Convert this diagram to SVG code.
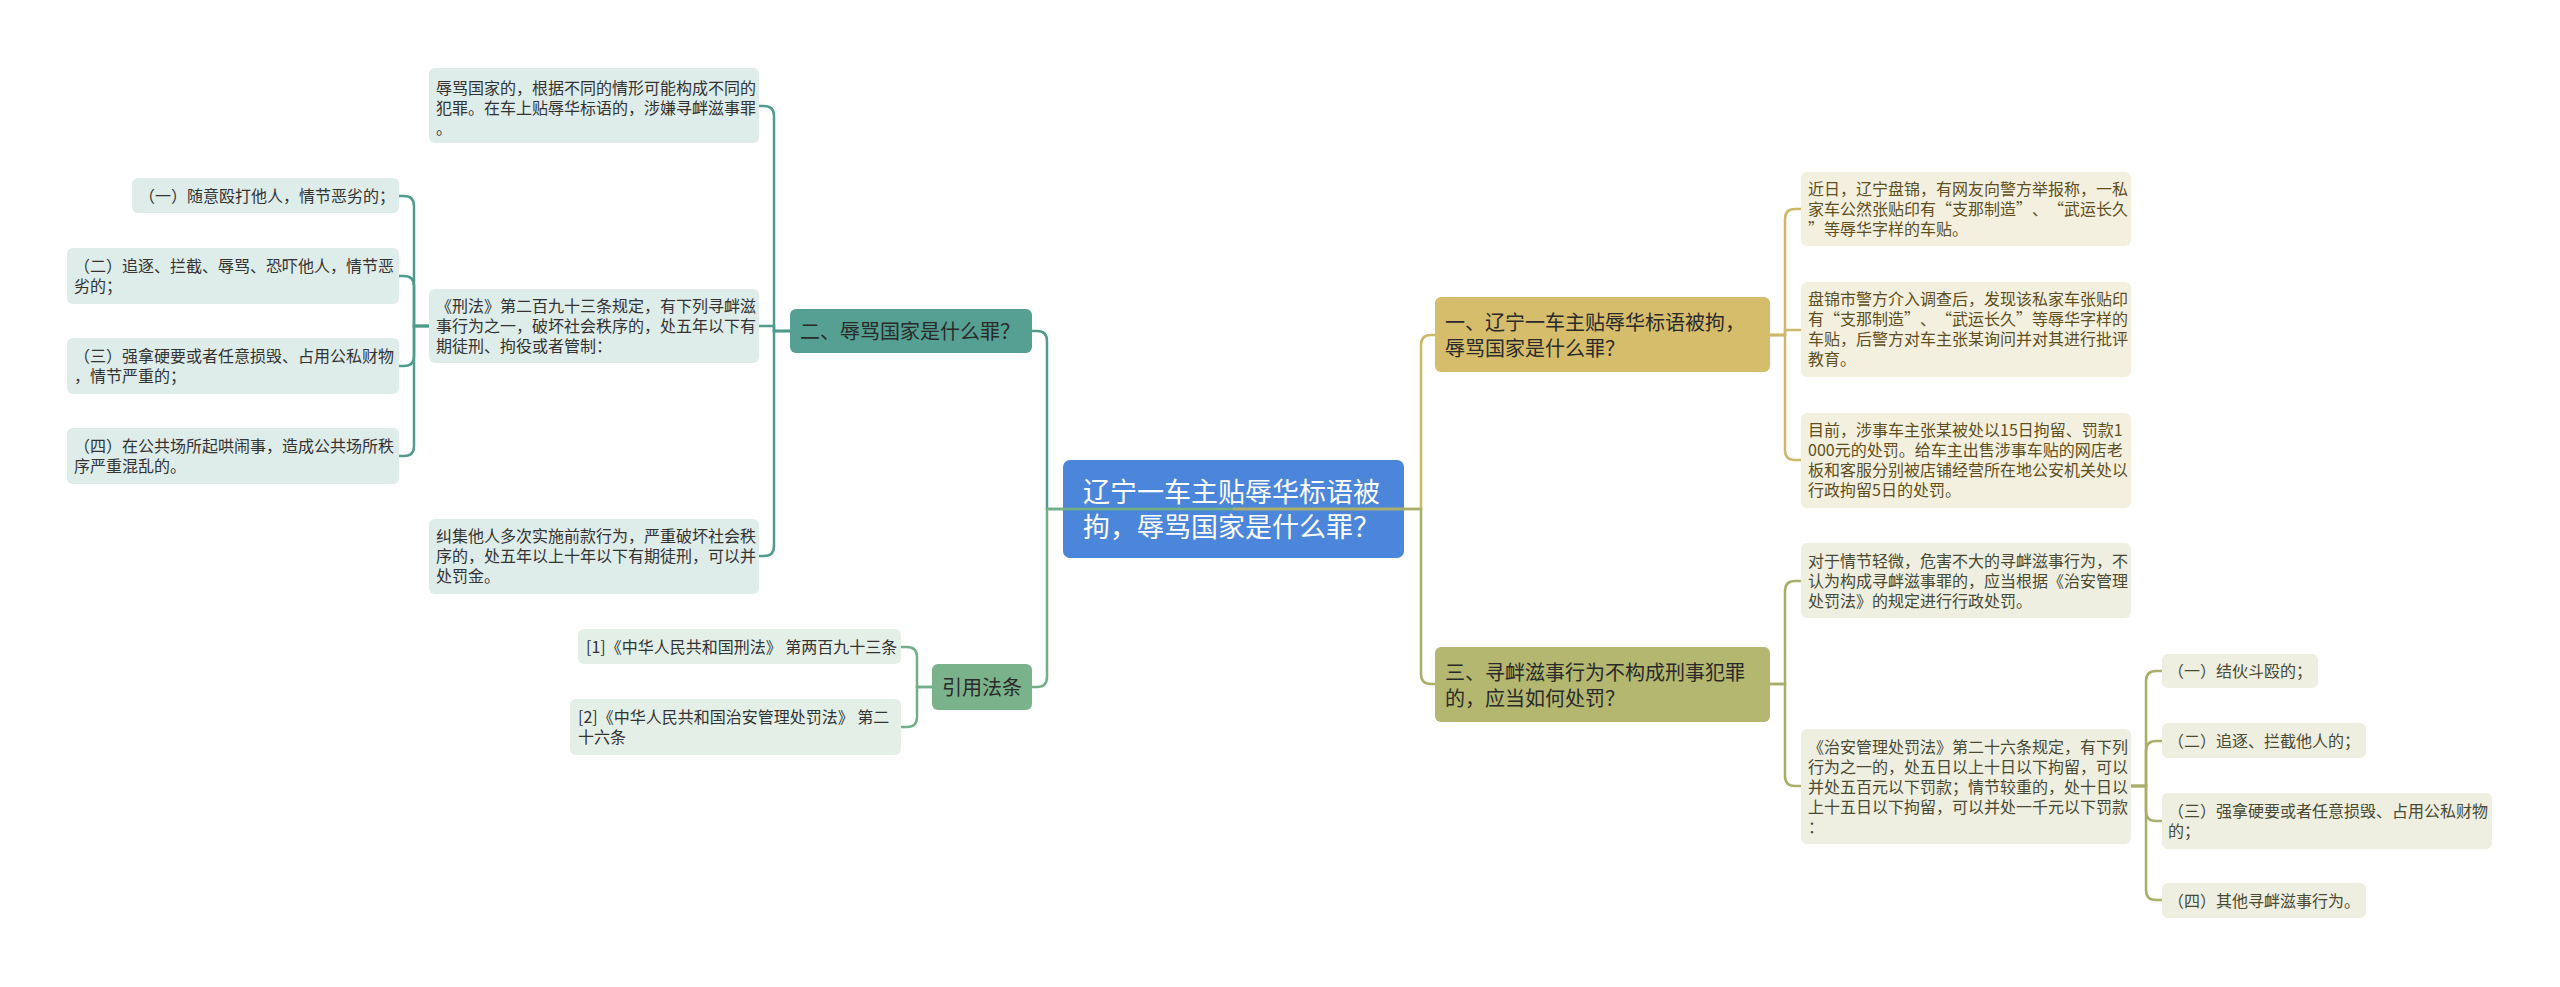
<svg xmlns="http://www.w3.org/2000/svg" width="2560" height="987" viewBox="0 0 2560 987">
<style>
text{font-family:"Noto Sans CJK SC","Noto Sans",sans-serif;}
.s{font-size:16px;}
.m{font-size:20px;fill:#2a2a2a;}
.r{font-size:27px;fill:#ffffff;}
.e{text-anchor:end;}
.tl{fill:#deecea;}
.gl{fill:#e4efe7;}
.yl{fill:#f4f0df;}
.ol{fill:#eeeee1;}
.tt{fill:#333333;}
.yt{fill:#5e4f22;}
.ot{fill:#484a34;}
.c{fill:none;stroke-width:2.5;}
.ct{stroke:#4f9b8c;}
.cg{stroke:#72ae86;}
.cy{stroke:#cdb76b;}
.co{stroke:#a9ae68;}
</style>
<rect width="2560" height="987" fill="#ffffff"/>

<g id="root">
<rect x="1063" y="460" width="341" height="98" rx="7" fill="#4b86db"/>
<text class="r" x="1083" y="502">辽宁一车主贴辱华标语被</text>
<text class="r" x="1083" y="537">拘，辱骂国家是什么罪？</text>
</g>

<g id="n2">
<rect x="790" y="309" width="242" height="44" rx="6" fill="#55a092"/>
<text class="m" x="800" y="338.5">二、辱骂国家是什么罪？</text>
</g>
<g id="n2a">
<rect x="429" y="68" width="330" height="75" rx="6" class="tl"/>
<text class="s tt" x="436" y="94">辱骂国家的，根据不同的情形可能构成不同的</text>
<text class="s tt" x="436" y="114">犯罪。在车上贴辱华标语的，涉嫌寻衅滋事罪</text>
<text class="s tt" x="436" y="134">。</text>
</g>
<g id="n2b">
<rect x="429" y="289" width="330" height="74" rx="6" class="tl"/>
<text class="s tt" x="436" y="312">《刑法》第二百九十三条规定，有下列寻衅滋</text>
<text class="s tt" x="436" y="332">事行为之一，破坏社会秩序的，处五年以下有</text>
<text class="s tt" x="436" y="352">期徒刑、拘役或者管制：</text>
</g>
<g id="n2b1">
<rect x="132" y="178" width="267" height="35" rx="6" class="tl"/>
<text class="s tt" x="139" y="201.5">（一）随意殴打他人，情节恶劣的；</text>
</g>
<g id="n2b2">
<rect x="67" y="248" width="332" height="56" rx="6" class="tl"/>
<text class="s tt" x="74" y="272">（二）追逐、拦截、辱骂、恐吓他人，情节恶</text>
<text class="s tt" x="74" y="292">劣的；</text>
</g>
<g id="n2b3">
<rect x="67" y="338" width="332" height="56" rx="6" class="tl"/>
<text class="s tt" x="74" y="362">（三）强拿硬要或者任意损毁、占用公私财物</text>
<text class="s tt" x="74" y="382">，情节严重的；</text>
</g>
<g id="n2b4">
<rect x="67" y="428" width="332" height="56" rx="6" class="tl"/>
<text class="s tt" x="74" y="452">（四）在公共场所起哄闹事，造成公共场所秩</text>
<text class="s tt" x="74" y="472">序严重混乱的。</text>
</g>
<g id="n2c">
<rect x="429" y="519" width="330" height="75" rx="6" class="tl"/>
<text class="s tt" x="436" y="542">纠集他人多次实施前款行为，严重破坏社会秩</text>
<text class="s tt" x="436" y="562">序的，处五年以上十年以下有期徒刑，可以并</text>
<text class="s tt" x="436" y="582">处罚金。</text>
</g>

<g id="n4">
<rect x="932" y="664" width="100" height="46" rx="6" fill="#7ab38b"/>
<text class="m" x="942" y="694.5">引用法条</text>
</g>
<g id="n4a">
<rect x="578" y="629" width="323" height="35" rx="6" class="gl"/>
<text class="s tt" x="586" y="652.5">[1]《中华人民共和国刑法》 第两百九十三条</text>
</g>
<g id="n4b">
<rect x="570" y="699" width="331" height="56" rx="6" class="gl"/>
<text class="s tt" x="578" y="723">[2]《中华人民共和国治安管理处罚法》 第二</text>
<text class="s tt" x="578" y="743">十六条</text>
</g>

<g id="n1">
<rect x="1435" y="297" width="335" height="75" rx="6" fill="#d5bd6c"/>
<text class="m" x="1445" y="330">一、辽宁一车主贴辱华标语被拘，</text>
<text class="m" x="1445" y="356">辱骂国家是什么罪？</text>
</g>
<g id="n1a">
<rect x="1801" y="172" width="330" height="74" rx="6" class="yl"/>
<text class="s yt" x="1808" y="195">近日，辽宁盘锦，有网友向警方举报称，一私</text>
<text class="s yt" x="1808" y="215">家车公然张贴印有</text>
<text class="s yt e" x="1952" y="215">“</text>
<text class="s yt" x="1952" y="215">支那制造</text>
<text class="s yt" x="2016" y="215">”</text>
<text class="s yt" x="2032" y="215">、</text>
<text class="s yt e" x="2064" y="215">“</text>
<text class="s yt" x="2064" y="215">武运长久</text>
<text class="s yt" x="1808" y="235">”</text>
<text class="s yt" x="1824" y="235">等辱华字样的车贴。</text>
</g>
<g id="n1b">
<rect x="1801" y="282" width="330" height="95" rx="6" class="yl"/>
<text class="s yt" x="1808" y="305">盘锦市警方介入调查后，发现该私家车张贴印</text>
<text class="s yt" x="1808" y="325">有</text>
<text class="s yt e" x="1840" y="325">“</text>
<text class="s yt" x="1840" y="325">支那制造</text>
<text class="s yt" x="1904" y="325">”</text>
<text class="s yt" x="1920" y="325">、</text>
<text class="s yt e" x="1952" y="325">“</text>
<text class="s yt" x="1952" y="325">武运长久</text>
<text class="s yt" x="2016" y="325">”</text>
<text class="s yt" x="2032" y="325">等辱华字样的</text>
<text class="s yt" x="1808" y="345">车贴，后警方对车主张某询问并对其进行批评</text>
<text class="s yt" x="1808" y="365">教育。</text>
</g>
<g id="n1c">
<rect x="1801" y="413" width="330" height="95" rx="6" class="yl"/>
<text class="s yt" x="1808" y="436">目前，涉事车主张某被处以15日拘留、罚款1</text>
<text class="s yt" x="1808" y="456">000元的处罚。给车主出售涉事车贴的网店老</text>
<text class="s yt" x="1808" y="476">板和客服分别被店铺经营所在地公安机关处以</text>
<text class="s yt" x="1808" y="496">行政拘留5日的处罚。</text>
</g>

<g id="n3">
<rect x="1435" y="647" width="335" height="75" rx="6" fill="#b3b76f"/>
<text class="m" x="1445" y="679.5">三、寻衅滋事行为不构成刑事犯罪</text>
<text class="m" x="1445" y="705.5">的，应当如何处罚？</text>
</g>
<g id="n3a">
<rect x="1801" y="543" width="330" height="75" rx="6" class="ol"/>
<text class="s ot" x="1808" y="567">对于情节轻微，危害不大的寻衅滋事行为，不</text>
<text class="s ot" x="1808" y="587">认为构成寻衅滋事罪的，应当根据《治安管理</text>
<text class="s ot" x="1808" y="607">处罚法》的规定进行行政处罚。</text>
</g>
<g id="n3b">
<rect x="1801" y="729" width="330" height="115" rx="6" class="ol"/>
<text class="s ot" x="1808" y="752.5">《治安管理处罚法》第二十六条规定，有下列</text>
<text class="s ot" x="1808" y="772.5">行为之一的，处五日以上十日以下拘留，可以</text>
<text class="s ot" x="1808" y="792.5">并处五百元以下罚款；情节较重的，处十日以</text>
<text class="s ot" x="1808" y="812.5">上十五日以下拘留，可以并处一千元以下罚款</text>
<text class="s ot" x="1808" y="832.5">：</text>
</g>
<g id="n3b1">
<rect x="2162" y="654" width="156" height="34" rx="6" class="ol"/>
<text class="s ot" x="2168" y="677">（一）结伙斗殴的；</text>
</g>
<g id="n3b2">
<rect x="2162" y="723" width="204" height="35" rx="6" class="ol"/>
<text class="s ot" x="2168" y="746.5">（二）追逐、拦截他人的；</text>
</g>
<g id="n3b3">
<rect x="2162" y="793" width="330" height="56" rx="6" class="ol"/>
<text class="s ot" x="2168" y="817">（三）强拿硬要或者任意损毁、占用公私财物</text>
<text class="s ot" x="2168" y="837">的；</text>
</g>
<g id="n3b4">
<rect x="2162" y="883" width="204" height="35" rx="6" class="ol"/>
<text class="s ot" x="2168" y="906.5">（四）其他寻衅滋事行为。</text>
</g>

<g id="connectors">
<path class="c ct" d="M1233 509 H1047 V341 Q1047 331 1037 331 H1032"/>
<path class="c cg" d="M1233 509 H1047 V677 Q1047 687 1037 687 H1032"/>
<path class="c cy" d="M1233 509 H1421 V345 Q1421 335 1431 335 H1435"/>
<path class="c co" d="M1233 509 H1421 V674 Q1421 684 1431 684 H1435"/>

<path class="c ct" d="M790 331 H774 V116 Q774 106 764 106 H759"/>
<path class="c ct" d="M790 331 H774 V326 H759"/>
<path class="c ct" d="M790 331 H774 V546 Q774 556 764 556 H759"/>

<path class="c ct" d="M429 326 H414 V206 Q414 196 404 196 H399"/>
<path class="c ct" d="M429 326 H414 V286 Q414 276 404 276 H399"/>
<path class="c ct" d="M429 326 H414 V356 Q414 366 404 366 H399"/>
<path class="c ct" d="M429 326 H414 V446 Q414 456 404 456 H399"/>

<path class="c cg" d="M932 687 H917 V657 Q917 647 907 647 H901"/>
<path class="c cg" d="M932 687 H917 V717 Q917 727 907 727 H901"/>

<path class="c cy" d="M1770 335 H1785 V219 Q1785 209 1795 209 H1801"/>
<path class="c cy" d="M1770 335 H1785 V330 H1801"/>
<path class="c cy" d="M1770 335 H1785 V450 Q1785 460 1795 460 H1801"/>

<path class="c co" d="M1770 684 H1785 V591 Q1785 581 1795 581 H1801"/>
<path class="c co" d="M1770 684 H1785 V776 Q1785 786 1795 786 H1801"/>

<path class="c co" d="M2131 786 H2146 V681 Q2146 671 2156 671 H2162"/>
<path class="c co" d="M2131 786 H2146 V751 Q2146 741 2156 741 H2162"/>
<path class="c co" d="M2131 786 H2146 V811 Q2146 821 2156 821 H2162"/>
<path class="c co" d="M2131 786 H2146 V890 Q2146 900 2156 900 H2162"/>
</g>
</svg>
